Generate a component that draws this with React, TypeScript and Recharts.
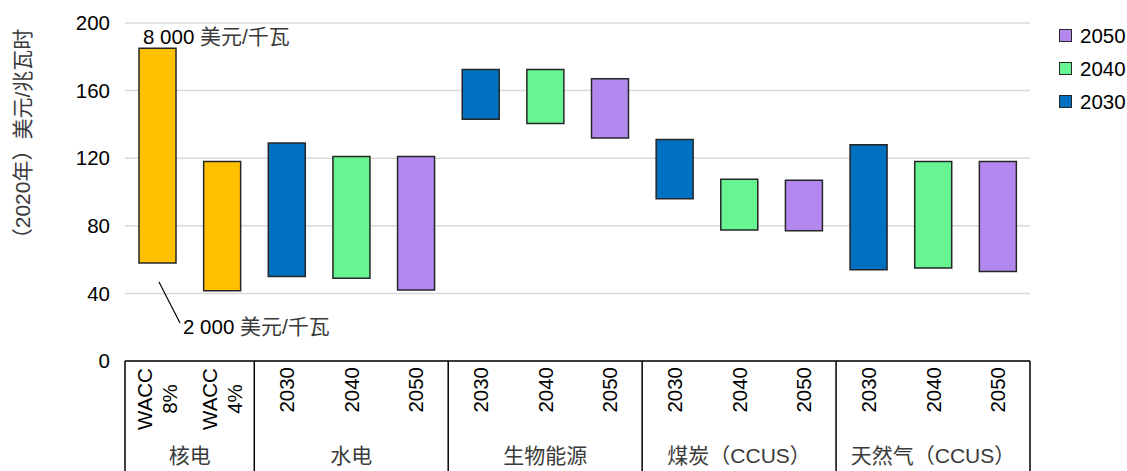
import { BarChart, Bar, XAxis, YAxis, CartesianGrid, Cell, LabelList, Label } from "recharts";

const categories = [
  "WACC 8%", "WACC 4%",
  "2030", "2040", "2050",
  "2030", "2040", "2050",
  "2030", "2040", "2050",
  "2030", "2040", "2050",
];
const seriesOf = [
  "核电", "核电",
  "2030", "2040", "2050",
  "2030", "2040", "2050",
  "2030", "2040", "2050",
  "2030", "2040", "2050",
];
const groups = ["核电", "水电", "生物能源", "煤炭（CCUS）", "天然气（CCUS）"];
const groupSizes = [2, 3, 3, 3, 3];
const lows = [58, 41.5, 50, 49, 42, 143, 140.5, 132, 96, 77.5, 77, 54, 55, 53];
const highs = [185, 118, 129, 121, 121, 172.5, 172.5, 167, 131, 107.5, 107, 128, 118, 118];
const yTicks = [0, 40, 80, 120, 160, 200];
const legendYears = ["2050", "2040", "2030"];

const colors: Record<string, string> = {
  核电: "#FFC000",
  "2030": "#0070C0",
  "2040": "#66F590",
  "2050": "#B388EE",
};

const data = categories.map((c, i) => ({ id: i, name: c, range: [lows[i], highs[i]] }));

const W = 1127;
const H = 471;
const M = { top: 23, right: 97, left: 0, bottom: 0 };
const Y_W = 125;
const X_H = 110;
const BAND = (W - Y_W - M.right) / categories.length;
const FONT = "'Liberation Sans', Arial, 'Noto Sans CJK SC', sans-serif";
const CJK_FILL = "#3a3a3a";

// group start index for each group
const groupStarts = groupSizes.map((_, g) => groupSizes.slice(0, g).reduce((a, b) => a + b, 0));

function CategoryTick(props: any) {
  const { x, y } = props;
  const i = props.payload?.value ?? props.index;
  const label = categories[i];
  const parts = label.split(" ");
  const out: any[] = [];
  if (parts.length === 2) {
    const cy = y + 38;
    parts.forEach((p, k) => {
      const px = x + (k === 0 ? -12.5 : 12.5);
      out.push(
        <text key={"p" + k} x={px} y={cy} transform={`rotate(-90 ${px} ${cy})`}
          textAnchor="middle" dominantBaseline="central" fontSize={20.5} fill="#000">{p}</text>
      );
    });
  } else {
    const ty = y + 6;
    out.push(
      <text key="t" x={x} y={ty} transform={`rotate(-90 ${x} ${ty})`}
        textAnchor="end" dominantBaseline="central" fontSize={20.5} fill="#000">{label}</text>
    );
  }
  const g = groupStarts.indexOf(i);
  if (g >= 0) {
    const left = x - BAND / 2;
    out.push(<line key="sep" x1={left} x2={left} y1={y} y2={y + X_H + 5} stroke="#000" strokeWidth={1.5} />);
    out.push(
      <text key="g" x={left + (groupSizes[g] * BAND) / 2} y={y + 94} textAnchor="middle"
        dominantBaseline="central" fontSize={21} fill={CJK_FILL}>{groups[g]}</text>
    );
  }
  if (i === categories.length - 1) {
    const right = x + BAND / 2;
    out.push(<line key="end" x1={right} x2={right} y1={y} y2={y + X_H + 5} stroke="#000" strokeWidth={1.5} />);
  }
  return <g>{out}</g>;
}

function NuclearNotes(props: any) {
  const { x, y, width, height, index } = props;
  if (index !== 0) return null;
  const bottom = y + height;
  return (
    <g fontSize={20.5} fill="#000">
      <text x={x + 4} y={y - 4}>8 000 <tspan fill={CJK_FILL} fontSize={21}>美元/千瓦</tspan></text>
      <line x1={x + 20} y1={bottom + 19} x2={x + 41} y2={bottom + 60} stroke="#000" strokeWidth={1.2} />
      <text x={x + 44} y={bottom + 71}>2 000 <tspan fill={CJK_FILL} fontSize={21}>美元/千瓦</tspan></text>
    </g>
  );
}

function YLabel() {
  const lx = 22;
  const ly = 139;
  return (
    <text x={lx} y={ly} transform={`rotate(-90 ${lx} ${ly})`} textAnchor="middle"
      dominantBaseline="central" fontSize={21} fill={CJK_FILL}>（2020年）美元/兆瓦时</text>
  );
}

export default function App() {
  return (
    <div style={{ position: "absolute", left: 0, top: 0, width: W, height: H, fontFamily: FONT, background: "#fff" }}>
      <BarChart width={W} height={H} data={data} margin={M} barSize={37}>
        <CartesianGrid vertical={false} stroke="#D9D9D9" strokeWidth={1.5} />
        <XAxis dataKey="id" type="category" height={X_H} axisLine={{ stroke: "#000", strokeWidth: 1.5 }}
          tickLine={false} tickSize={0} tickMargin={0} tick={<CategoryTick />} interval={0} />
        <YAxis domain={[0, 200]} ticks={yTicks} width={Y_W} axisLine={false} tickLine={false}
          tickSize={0} tickMargin={15} tick={{ fill: "#000", fontSize: 20.5 }}>
          <Label content={<YLabel />} />
        </YAxis>
        <Bar dataKey="range" stroke="#262626" strokeWidth={1.5} isAnimationActive={false}>
          {data.map((d, i) => (
            <Cell key={d.id} fill={colors[seriesOf[i]]} />
          ))}
          <LabelList dataKey="range" content={<NuclearNotes />} />
        </Bar>
      </BarChart>
      <div style={{ position: "absolute", left: 1059, top: 19 }}>
        {legendYears.map((yr) => (
          <div key={yr} style={{ display: "flex", alignItems: "center", height: 33, fontSize: 20.5, color: "#000" }}>
            <span style={{ display: "inline-block", width: 11, height: 11, border: "1.5px solid #262626", background: colors[yr], marginRight: 8 }} />
            <span>{yr}</span>
          </div>
        ))}
      </div>
    </div>
  );
}
